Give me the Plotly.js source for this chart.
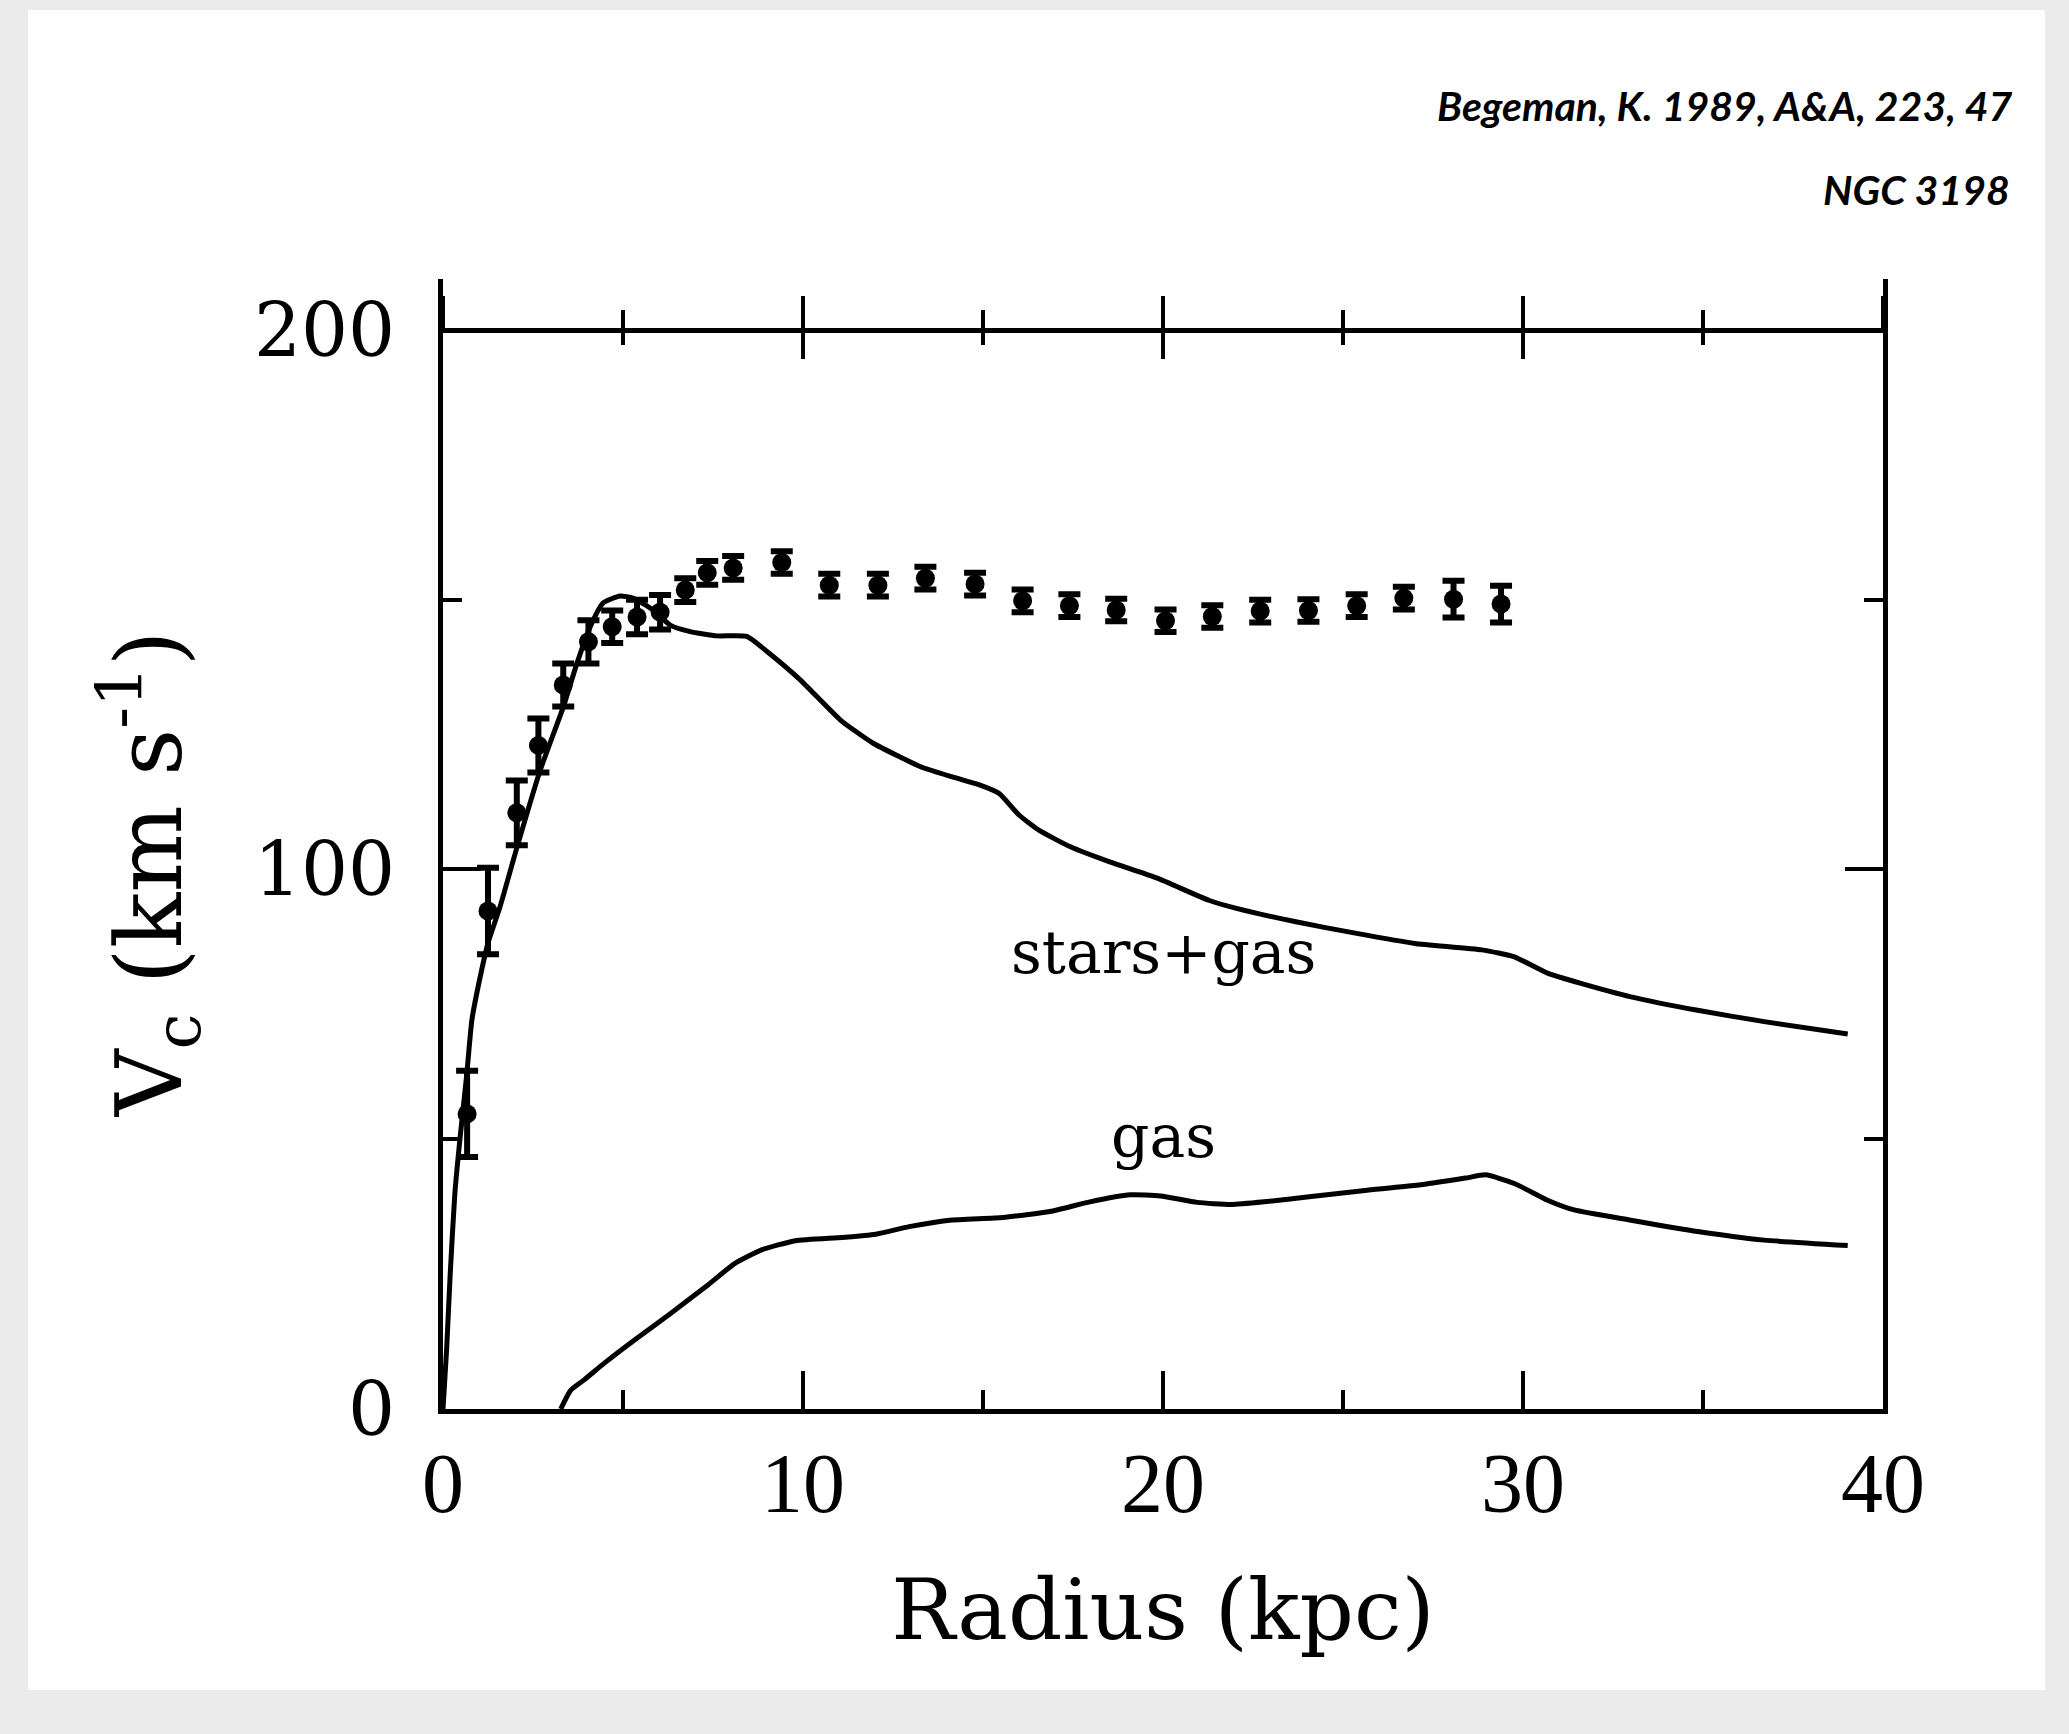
<!DOCTYPE html>
<html>
<head>
<meta charset="utf-8">
<script src="https://cdn.plot.ly/plotly-3.0.1.min.js"></script>
<style>
html,body{margin:0;padding:0;background:#ebebeb;}
#chart{width:2069px;height:1734px;}
</style>
</head>
<body>
<div id="chart"></div>
<script>
// Observed rotation curve of NGC 3198 (radius in kpc, velocity in km/s)
const obsRadius = [0.67,1.25,2.05,2.65,3.34,4.04,4.70,5.39,6.03,6.73,7.34,8.06,9.41,10.73,12.08,13.40,14.78,16.10,17.40,18.70,20.07,21.37,22.70,24.04,25.38,26.69,28.07,29.39];
const obsVelocity = [54.7,92.3,110.5,123.0,134.2,142.2,145.0,146.8,147.7,151.8,155.0,155.9,156.9,152.7,152.7,154.0,152.9,149.8,148.9,148.1,146.1,146.9,147.9,148.0,148.9,150.3,150.1,149.2];
const obsError = [8,8,6,5,4,4,3,3.2,3.2,2.2,2.2,2.2,2.1,2.1,2.1,2.1,2.1,2.1,2.1,2.1,2.1,2.1,2.1,2.1,2.1,2.1,3.4,3.4];

// stars+gas model curve
const starsGasRadius = [0,0.10,0.20,0.33,0.47,0.66,0.80,1.03,1.26,1.58,2.05,2.70,3.34,3.72,4.09,4.45,4.92,5.28,5.84,6.31,6.87,7.61,8.44,9.00,9.93,11.04,11.95,13.25,14.13,14.90,15.45,16.00,16.55,17.43,18.52,19.84,21.27,22.04,23.69,25.34,26.99,28.86,29.76,30.68,31.61,33.00,34.85,36.70,39.02];
const starsGasVelocity = [0,11,25,40,50,62,72,80,86.6,93,104,118.4,130.1,138.2,145,149.4,150.7,150.3,148.1,145.3,144.1,143.3,143.2,140.4,135.1,127.7,123.4,119.1,117.2,115.7,114.1,110.1,107.3,104.2,101.4,98.4,94.3,92.8,90.3,88.2,86.3,85.1,83.8,80.8,78.9,76.4,73.9,71.8,69.5];

// gas model curve
const gasRadius = [3.27,3.55,3.92,4.48,5.32,6.34,7.36,8.11,8.85,9.79,11.09,12.02,12.95,14.07,15.55,16.86,17.97,19.09,19.93,20.95,21.88,22.81,24.12,25.61,27.10,28.40,28.96,29.76,30.68,31.42,33.00,34.85,36.70,39.02];
const gasVelocity = [0,3.5,5.4,8.5,12.8,17.8,23.0,27.0,29.5,31.2,31.8,32.4,33.8,35.0,35.5,36.6,38.4,39.7,39.5,38.3,37.9,38.4,39.4,40.5,41.5,42.8,43.4,41.8,38.7,36.9,35.0,32.9,31.3,30.3];

const xTickValues = [0,10,20,30,40];
const xTickText = ['0','10','20','30','40'];
const yTickValues = [0,100,200];
const yTickText = ['0','100','200'];
const xRange = [0, 40];

const curveLabels = ['stars+gas','gas'];
const curveLabelX = [20.0, 20.0];
const curveLabelY = [84.8, 50.6];

const citationText = 'Begeman, K. 1989, A&amp;A, 223, 47';
const galaxyName = 'NGC 3198';
const xTitle = 'Radius (kpc)';
const yTitle = 'V<sub>c</sub> (km s<sup>-1</sup>)';

const Y_TOP = 209.45;
const BLACK = '#000000';

const traces = [
  {x: starsGasRadius, y: starsGasVelocity, type:'scatter', mode:'lines',
   line:{color:BLACK, width:5, shape:'spline', smoothing:0.5}, hoverinfo:'skip', showlegend:false},
  {x: gasRadius, y: gasVelocity, type:'scatter', mode:'lines',
   line:{color:BLACK, width:5, shape:'spline', smoothing:0.5}, hoverinfo:'skip', showlegend:false},
  {x: obsRadius, y: obsVelocity, type:'scatter', mode:'markers',
   marker:{color:BLACK, size:19, symbol:'circle'},
   error_y:{type:'data', array: obsError, visible:true, color:BLACK, thickness:6, width:11},
   hoverinfo:'skip', showlegend:false},
  // carriers for the top axis at V = 200 (no visible marks)
  {x: xRange, y: [null, null], xaxis:'x2', yaxis:'y', type:'scatter', mode:'lines',
   hoverinfo:'skip', showlegend:false},
  {x: xRange, y: [null, null], xaxis:'x3', yaxis:'y', type:'scatter', mode:'lines',
   hoverinfo:'skip', showlegend:false}
];

const topPos = 200 / Y_TOP;

const layout = {
  width: 2069, height: 1734,
  margin: {l:443, r:186, t:279, b:325, pad:0},
  paper_bgcolor: '#ebebeb',
  plot_bgcolor: 'rgba(0,0,0,0)',
  showlegend: false,
  font: {family:'DejaVu Serif', color:BLACK},
  xaxis: {
    range:xRange, showgrid:false, zeroline:false,
    showline:true, linecolor:BLACK, linewidth:5,
    ticks:'inside', ticklen:38, tickwidth:4, tickcolor:BLACK,
    tickvals: xTickValues, ticktext: xTickText,
    minor:{dtick:5, tick0:0, ticks:'inside', ticklen:19, tickwidth:4, tickcolor:BLACK, showgrid:false},
    tickfont:{family:'Liberation Serif', size:84, color:BLACK},
    ticklabelstandoff: -3,
    title:{text:xTitle, font:{family:'DejaVu Serif', size:85, color:BLACK}, standoff:52},
    automargin:false
  },
  xaxis2: {
    overlaying:'x', anchor:'free', position: topPos, side:'top',
    range:xRange, showgrid:false, zeroline:false,
    showline:true, linecolor:BLACK, linewidth:5,
    ticks:'outside', ticklen:32, tickwidth:4, tickcolor:BLACK,
    dtick:10, tick0:0,
    minor:{dtick:5, tick0:0, ticks:'outside', ticklen:18, tickwidth:4, tickcolor:BLACK, showgrid:false},
    showticklabels:false, automargin:false
  },
  xaxis3: {
    overlaying:'x', anchor:'free', position: topPos, side:'top',
    range:xRange, showgrid:false, zeroline:false, showline:false,
    ticks:'inside', ticklen:28, tickwidth:4, tickcolor:BLACK,
    dtick:10, tick0:0,
    minor:{dtick:5, tick0:0, ticks:'inside', ticklen:14, tickwidth:4, tickcolor:BLACK, showgrid:false},
    showticklabels:false, automargin:false
  },
  yaxis: {
    range:[0, Y_TOP], showgrid:false, zeroline:false,
    showline:true, linecolor:BLACK, linewidth:5, mirror:'ticks',
    ticks:'inside', ticklen:38, tickwidth:4, tickcolor:BLACK,
    tickvals: yTickValues, ticktext: yTickText,
    minor:{dtick:50, tick0:0, ticks:'inside', ticklen:19, tickwidth:4, tickcolor:BLACK, showgrid:false},
    tickfont:{family:'DejaVu Serif', size:74, color:BLACK},
    ticklabelstandoff: 28,
    automargin:false
  },
  shapes: [
    {type:'rect', xref:'paper', yref:'paper', layer:'below',
     x0:-0.2882, x1:1.1125, y0:-0.2487, y1:1.2381,
     fillcolor:'#ffffff', line:{width:0}}
  ],
  annotations: [
    {xref:'paper', yref:'paper', x:-0.2049, y:0.4743, text:yTitle, textangle:-90, showarrow:false,
     xanchor:'center', yanchor:'middle', font:{family:'DejaVu Serif', size:92, color:BLACK}},
    {xref:'x', yref:'y', x:curveLabelX[0], y:curveLabelY[0], text:curveLabels[0], showarrow:false,
     xanchor:'center', yanchor:'middle', font:{family:'DejaVu Serif', size:60, color:BLACK}},
    {xref:'x', yref:'y', x:curveLabelX[1], y:curveLabelY[1], text:curveLabels[1], showarrow:false,
     xanchor:'center', yanchor:'middle', font:{family:'DejaVu Serif', size:60, color:BLACK}},
    {xref:'paper', yref:'paper', x:1.0917, y:1.1531, text:'<b><i>'+citationText+'</i></b>', showarrow:false,
     xanchor:'right', yanchor:'middle', font:{family:'Lato', size:41, color:BLACK}},
    {xref:'paper', yref:'paper', x:1.0896, y:1.0796, text:'<b><i>'+galaxyName+'</i></b>', showarrow:false,
     xanchor:'right', yanchor:'middle', font:{family:'Lato', size:41, color:BLACK}}
  ]
};

Plotly.newPlot('chart', traces, layout, {displayModeBar:false, staticPlot:true});
</script>
</body>
</html>
